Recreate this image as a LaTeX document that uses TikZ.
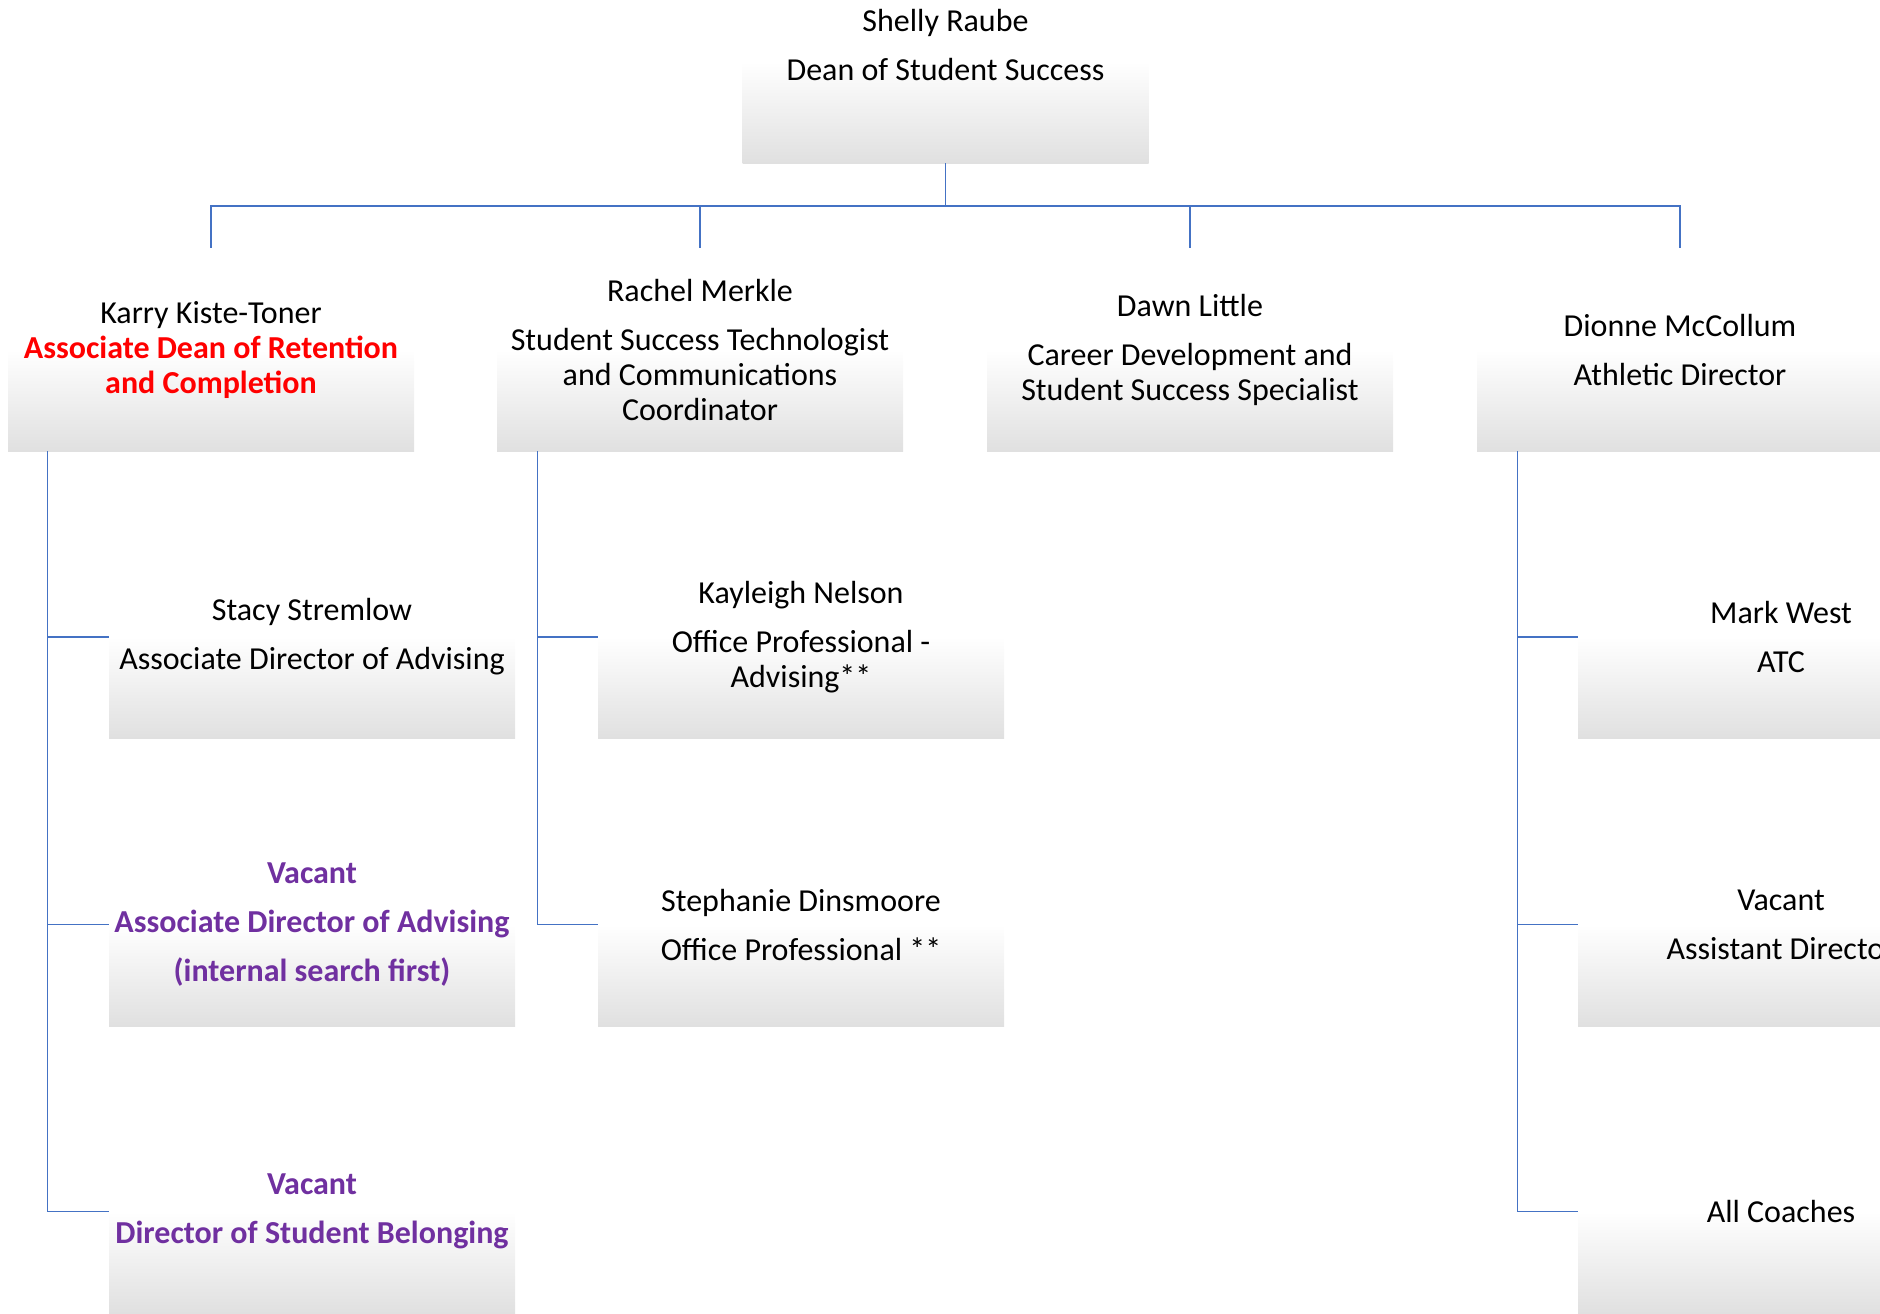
\documentclass[tikz,border=0pt]{standalone}
\usepackage{fontspec}
\setmainfont{Carlito}
\definecolor{conn}{HTML}{4472C4}
\definecolor{vacpurple}{HTML}{7030A0}
\definecolor{boxgray}{HTML}{E0E0E0}
\pgfdeclareverticalshading{boxfade}{100bp}{color(0bp)=(boxgray); color(25bp)=(boxgray); color(50bp)=(white); color(100bp)=(white)}
\newcommand\redline[1]{\textcolor{red}{\bfseries #1}}
\newcommand\vacline[1]{\textcolor{vacpurple}{\bfseries #1}}
\begin{document}
\begin{tikzpicture}[x=0.5pt,y=-0.5pt,
  box/.style={rectangle, minimum width=203pt, minimum height=101.5pt, inner sep=0pt, shading=boxfade, draw=none},
  txt/.style={align=center, inner sep=0pt, font=\fontsize{16}{17.5}\selectfont},
  link/.style={draw=conn, line width=0.65pt}]
\useasboundingbox (0,0) rectangle (1880,1313);
\clip (0,0) rectangle (1880,1313);

% boxes
\node[box] (dean) at (945.5,61.5) {};
\node[box] (karry) at (211,349.5) {};
\node[box] (rachel) at (700,349.5) {};
\node[box] (dawn) at (1190,349.5) {};
\node[box] (dionne) at (1680,349.5) {};
\node[box] (stacy) at (312,637) {};
\node[box] (vacadv) at (312,924.5) {};
\node[box] (vacbel) at (312,1211.5) {};
\node[box] (kayleigh) at (801,637) {};
\node[box] (stephanie) at (801,924.5) {};
\node[box] (mark) at (1781,637) {};
\node[box] (vacasst) at (1781,924.5) {};
\node[box] (coaches) at (1781,1211.5) {};

% connectors from the dean to the four leads
\coordinate (bus) at (945.5,206);
\draw[link] (dean.south) -- (dean.south |- bus);
\draw[link] (karry.north) -- (karry.north |- bus) -- (dionne.north |- bus) -- (dionne.north);
\draw[link] (rachel.north) -- (rachel.north |- bus);
\draw[link] (dawn.north) -- (dawn.north |- bus);

% hanging connectors to direct reports
\coordinate (kspine) at ([xshift=20pt]karry.south west);
\coordinate (rspine) at ([xshift=20.5pt]rachel.south west);
\coordinate (dspine) at ([xshift=20.5pt]dionne.south west);
\draw[link] (kspine) |- (stacy.west);
\draw[link] (kspine) |- (vacadv.west);
\draw[link] (kspine) |- (vacbel.west);
\draw[link] (rspine) |- (kayleigh.west);
\draw[link] (rspine) |- (stephanie.west);
\draw[link] (dspine) |- (mark.west);
\draw[link] (dspine) |- (vacasst.west);
\draw[link] (dspine) |- (coaches.west);

% texts
\node[txt] (deant) at (945.5,45) {Shelly Raube\\[7pt]Dean of Student Success};
\node[txt] (karryt) at (karry) {Karry Kiste-Toner\\\redline{Associate Dean of Retention}\\\redline{and Completion}};
\node[txt] (rachelt) at (rachel) {Rachel Merkle\\[7pt]Student Success Technologist\\and Communications\\Coordinator};
\node[txt] (dawnt) at (dawn) {Dawn Little\\[7pt]Career Development and\\Student Success Specialist};
\node[txt] (dionnet) at (dionne) {Dionne McCollum\\[7pt]Athletic Director};
\node[txt] (stacyt) at (stacy) {Stacy Stremlow\\[7pt]Associate Director of Advising};
\node[txt] (vacadvt) at (vacadv) {\vacline{Vacant}\\[7pt]\vacline{Associate Director of Advising}\\[7pt]\vacline{(internal search first)}};
\node[txt] (vacbelt) at (vacbel) {\vacline{Vacant}\\[7pt]\vacline{Director of Student Belonging}};
\node[txt] (kayleight) at (kayleigh) {Kayleigh Nelson\\[7pt]Office Professional -\\Advising**};
\node[txt] (stephaniet) at (stephanie) {Stephanie Dinsmoore\\[7pt]Office Professional **};
\node[txt] (markt) at (mark) {Mark West\\[7pt]ATC};
\node[txt] (vacasstt) at (vacasst) {Vacant\\[7pt]Assistant Director};
\node[txt] (coachest) at (coaches) {All Coaches};
\end{tikzpicture}
\end{document}
